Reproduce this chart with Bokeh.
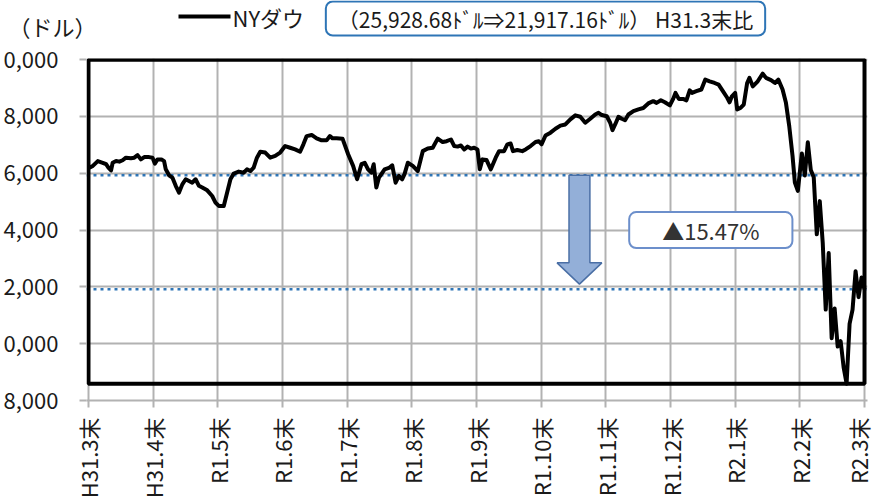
import math
from bokeh.plotting import figure
from bokeh.layouts import column
from bokeh.models import Range1d, FixedTicker, Label, Span
from bokeh.embed import file_html
from bokeh.resources import INLINE

FONT = "Noto Sans CJK JP"

# ---------------- data ----------------
tick_labels = ["H31.3末", "H31.4末", "R1.5末", "R1.6末", "R1.7末", "R1.8末", "R1.9末",
               "R1.10末", "R1.11末", "R1.12末", "R2.1末", "R2.2末", "R2.3末"]
y_ticks = [18000, 20000, 22000, 24000, 26000, 28000, 30000]
y_tick_labels = ["8,000", "0,000", "2,000", "4,000", "6,000", "8,000", "0,000"]

# position in months after H31.3末 (0 = end of March 2019, 12 = end of March 2020)
month_pos = [
    0.015, 0.067, 0.144, 0.220, 0.272, 0.308, 0.349, 0.374, 0.426, 0.477, 0.528, 0.579,
    0.656, 0.708, 0.759, 0.810, 0.862, 0.938, 0.990, 1.026, 1.067, 1.128, 1.169, 1.195,
    1.246, 1.297, 1.349, 1.400, 1.451, 1.503, 1.554, 1.605, 1.656, 1.708, 1.759, 1.836,
    1.913, 1.964, 2.015, 2.092, 2.144, 2.195, 2.246, 2.323, 2.400, 2.451, 2.503, 2.554,
    2.605, 2.656, 2.733, 2.810, 2.887, 2.964, 3.041, 3.118, 3.195, 3.272, 3.323, 3.374,
    3.451, 3.528, 3.605, 3.682, 3.733, 3.774, 3.836, 3.928, 4.015, 4.092, 4.154, 4.221,
    4.272, 4.323, 4.374, 4.410, 4.451, 4.492, 4.528, 4.579, 4.656, 4.697, 4.749, 4.800,
    4.851, 4.887, 4.938, 5.015, 5.092, 5.169, 5.246, 5.323, 5.400, 5.477, 5.538, 5.605,
    5.656, 5.708, 5.759, 5.810, 5.862, 5.913, 5.964, 6.015, 6.051, 6.092, 6.154, 6.221,
    6.297, 6.349, 6.426, 6.477, 6.528, 6.564, 6.631, 6.708, 6.759, 6.836, 6.913, 6.964,
    7.005, 7.067, 7.144, 7.221, 7.297, 7.374, 7.451, 7.528, 7.605, 7.682, 7.759, 7.836,
    7.887, 7.938, 8.015, 8.067, 8.103, 8.144, 8.195, 8.246, 8.297, 8.349, 8.426, 8.503,
    8.579, 8.656, 8.733, 8.785, 8.851, 8.913, 8.990, 9.041, 9.077, 9.128, 9.195, 9.246,
    9.297, 9.333, 9.400, 9.477, 9.538, 9.605, 9.682, 9.744, 9.810, 9.877, 9.913, 9.949,
    10.000, 10.031, 10.082, 10.133, 10.185, 10.221, 10.272, 10.349, 10.426, 10.477, 10.554, 10.615,
    10.667, 10.733, 10.785, 10.836, 10.887, 10.923, 10.969, 11.031, 11.077, 11.123, 11.169, 11.215,
    11.262, 11.308, 11.354, 11.400, 11.446, 11.492, 11.538, 11.585, 11.631, 11.677, 11.723, 11.769,
    11.815, 11.862, 11.908, 11.954, 12.000,
]
dow_close = [
    26200, 26260, 26430, 26370, 26320, 26200, 26100, 26370, 26430, 26410, 26460, 26550,
    26530, 26550, 26640, 26490, 26570, 26570, 26550, 26340, 26490, 26490, 26430, 26140,
    25930, 25850, 25560, 25320, 25610, 25790, 25730, 25670, 25790, 25560, 25500, 25400,
    25200, 24970, 24850, 24850, 25320, 25790, 25990, 26060, 26020, 26140, 26080, 26200,
    26550, 26760, 26730, 26550, 26610, 26730, 26960, 26900, 26840, 26760, 27020, 27310,
    27350, 27230, 27160, 27160, 27310, 27230, 27230, 27220, 26670, 26260, 25790, 26320,
    26370, 26140, 26020, 26320, 25500, 25850, 25970, 26140, 26200, 26280, 25670, 25910,
    25790, 25970, 26370, 26260, 26080, 26780, 26870, 26900, 27220, 27100, 27130, 27190,
    26960, 26940, 26980, 26840, 26940, 26870, 26900, 26840, 26140, 26490, 26470, 26140,
    26550, 26780, 26780, 27020, 27050, 26780, 26820, 26780, 26840, 26960, 27100, 27130,
    27020, 27330, 27430, 27570, 27680, 27720, 27900, 28040, 27990, 27780, 27920, 28070,
    28130, 28050, 28010, 27780, 27520, 27720, 27990, 27920, 27870, 28070, 28190, 28250,
    28300, 28460, 28540, 28480, 28570, 28500, 28390, 28620, 28830, 28620, 28620, 28570,
    28920, 28830, 28890, 28950, 29300, 29240, 29180, 29120, 28890, 28660, 28500, 28710,
    28830, 28250, 28300, 28420, 29180, 29360, 29060, 29240, 29510, 29360, 29280, 29180,
    29300, 28950, 28480, 27660, 26610, 25670, 25380, 26700, 25920, 27090, 26120, 25860,
    23850, 25020, 23550, 21200, 23190, 20190, 21240, 19900, 20090, 19170, 18590, 20700,
    21200, 22550, 21640, 22330, 21917,
]
base_close = 25928.68   # H31.3末
last_close = 21917.16   # R2.3末
series_name = "NYダウ"
unit_label = "（ドル）"
compare_text = "（25,928.68ﾄﾞﾙ⇒21,917.16ﾄﾞﾙ） H31.3末比"
change_text = "▲15.47%"

GRID = "#B2B2B2"
TEXT = "#1a1a1a"
FS = "22px"
W = 873
HEAD_H = 43

# ---------------- header (legend, unit, comparison box) ----------------
hd = figure(width=W, height=HEAD_H, output_backend="svg", toolbar_location=None,
            x_range=Range1d(0, W), y_range=Range1d(HEAD_H, 0),
            x_axis_location=None, y_axis_location=None,
            min_border_left=0, min_border_right=0, min_border_top=0, min_border_bottom=0)
hd.frame_align = False
hd.outline_line_color = None
hd.grid.visible = False
hd.background_fill_color = "white"
hd.border_fill_color = "white"

hd.line([178, 230], [16, 16], line_color="black", line_width=4)
hd.add_layout(Label(x=232, y=16, text=series_name, text_align="left", text_baseline="middle",
                    text_font=FONT, text_font_size=FS, text_color=TEXT))
hd.add_layout(Label(x=8, y=25.5, text=unit_label, text_align="left", text_baseline="middle",
                    text_font=FONT, text_font_size=FS, text_color=TEXT))
hd.add_layout(Label(x=545, y=18, text=compare_text, text_align="center", text_baseline="middle",
                    text_font=FONT, text_font_size="21px", text_color=TEXT,
                    background_fill_color="white", border_line_color="#2E75B6",
                    border_line_width=2, border_radius=7, padding=dict(x=12, y=2)))

# ---------------- main chart ----------------
X0, X1 = -2 / 65, 12 + 3 / 65
Y0, Y1 = 18000, 30042
p = figure(width=W, height=502 - HEAD_H, output_backend="svg", toolbar_location=None,
           x_range=Range1d(X0, X1), y_range=Range1d(Y0, Y1),
           min_border_left=82, min_border_right=6, min_border_top=15, min_border_bottom=102)
p.frame_align = False
p.outline_line_color = None
p.background_fill_color = "white"
p.border_fill_color = "white"

p.xaxis.ticker = FixedTicker(ticks=list(range(len(tick_labels))))
p.xaxis.major_label_overrides = {i: s for i, s in enumerate(tick_labels)}
p.xaxis.major_label_orientation = math.pi / 2
p.xaxis.major_tick_out = 7
p.xaxis.major_tick_in = 0
p.xaxis.minor_tick_line_color = None
p.xaxis.axis_line_color = GRID
p.xaxis.axis_line_width = 2
p.xaxis.major_tick_line_color = GRID
p.xaxis.major_tick_line_width = 2
p.xaxis.major_label_standoff = 10

p.yaxis.ticker = FixedTicker(ticks=y_ticks)
p.yaxis.major_label_overrides = {t: s for t, s in zip(y_ticks, y_tick_labels)}
p.yaxis.major_tick_out = 7
p.yaxis.major_tick_in = 0
p.yaxis.minor_tick_line_color = None
p.yaxis.axis_line_color = None
p.yaxis.major_tick_line_color = GRID
p.yaxis.major_tick_line_width = 2
p.yaxis.major_label_standoff = 21

for ax in (p.xaxis, p.yaxis):
    ax.major_label_text_font = FONT
    ax.major_label_text_font_size = FS
    ax.major_label_text_color = TEXT

p.xgrid.ticker = FixedTicker(ticks=list(range(len(tick_labels))))
p.ygrid.ticker = FixedTicker(ticks=y_ticks)
p.grid.grid_line_color = GRID
p.grid.grid_line_width = 2

for v in (base_close, last_close):
    p.add_layout(Span(location=v, dimension="width", line_color="#2E75B6",
                      line_width=2.5, line_dash="3 4", level="underlay"))

ax_c = 7.592
shaft = 10.5 / 65
head = 22.5 / 65
tip_y = last_close + 180
neck_y = tip_y + 750
p.patch([ax_c - shaft, ax_c + shaft, ax_c + shaft, ax_c + head, ax_c, ax_c - head, ax_c - shaft],
        [base_close, base_close, neck_y, neck_y, tip_y, neck_y, neck_y],
        fill_color="#93AFD8", line_color="#4A6FA5", line_width=1.5)

p.line(month_pos, dow_close, line_color="black", line_width=4, line_join="round")

p.quad(left=0, right=12, bottom=min(dow_close), top=30000,
       fill_color=None, line_color="black", line_width=4)

p.add_layout(Label(x=(709.5 - 84) / 65, y=24000, text=change_text, text_align="center",
                   text_baseline="middle", text_font=FONT, text_font_size=FS,
                   text_color="#333333", background_fill_color="white",
                   border_line_color="#6C8FCB", border_line_width=2, border_radius=7,
                   padding=dict(x=33, y=2)))

layout = column(hd, p, spacing=0)
open("out.html", "w").write(file_html(layout, INLINE))
